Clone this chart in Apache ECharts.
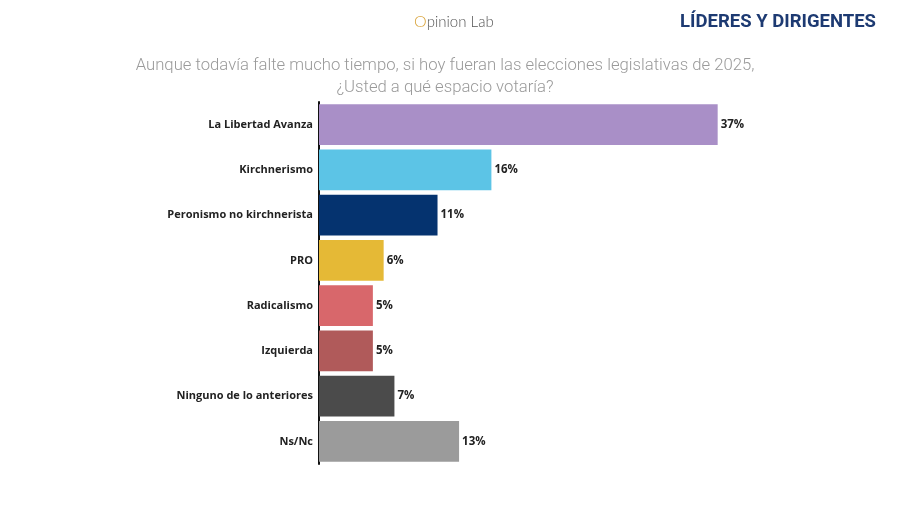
<!DOCTYPE html>
<html><head><meta charset="utf-8">
<script src="https://cdn.jsdelivr.net/npm/echarts@6/dist/echarts.min.js"></script>
<style>html,body{margin:0;padding:0;background:#fff}#c{width:900px;height:506px}</style>
</head><body><div id="c"></div>
<script>
const categories = ["La Libertad Avanza","Kirchnerismo","Peronismo no kirchnerista","PRO","Radicalismo","Izquierda","Ninguno de lo anteriores","Ns/Nc"];
const values = [37,16,11,6,5,5,7,13];
const colors = ["#a98fc7","#5cc4e6","#05336f","#e5b936","#d8676b","#b05a5a","#4b4b4b","#9b9b9b"];
const titleText = "Aunque todavía falte mucho tiempo, si hoy fueran las elecciones legislativas de 2025,\n¿Usted a qué espacio votaría?";

const chart = echarts.init(document.getElementById('c'));
chart.setOption({
  animation:false,
  title:[
    {text:titleText,left:440,top:50,textAlign:'center',textStyle:{fontFamily:'Roboto',fontWeight:300,fontSize:16.7,color:'#9a9a9a',lineHeight:22}},
    {text:'LÍDERES Y DIRIGENTES',right:19,top:8,textStyle:{fontFamily:'Roboto',fontWeight:'bold',fontSize:18.5,color:'#1d3a72'}},
    {text:'{o|O}{t|pinion Lab}',left:409,top:9,textStyle:{rich:{o:{fontFamily:'Lato',fontSize:16,color:'#d9a33a',fontWeight:300},t:{fontFamily:'Lato',fontSize:15,color:'#555555',fontWeight:300}}}}
  ],
  grid:{left:319,width:431,top:102,bottom:42,containLabel:false},
  xAxis:{type:'value',min:0,max:40,show:false},
  yAxis:{type:'category',data:categories,inverse:true,
    axisLine:{show:true,lineStyle:{color:'#111',width:2}},
    axisTick:{show:false},
    axisLabel:{fontFamily:'Open Sans',fontWeight:'bold',fontSize:11,color:'#222',margin:6}},
  series:[{type:'bar',data:values.map((v,i)=>({value:v,itemStyle:{color:colors[i]}})),
    barCategoryGap:'10%',
    label:{show:true,position:'right',distance:3,formatter:'{c}%',fontFamily:'Open Sans',fontWeight:'bold',fontSize:11.5,color:'#222'}}]
});
</script></body></html>
